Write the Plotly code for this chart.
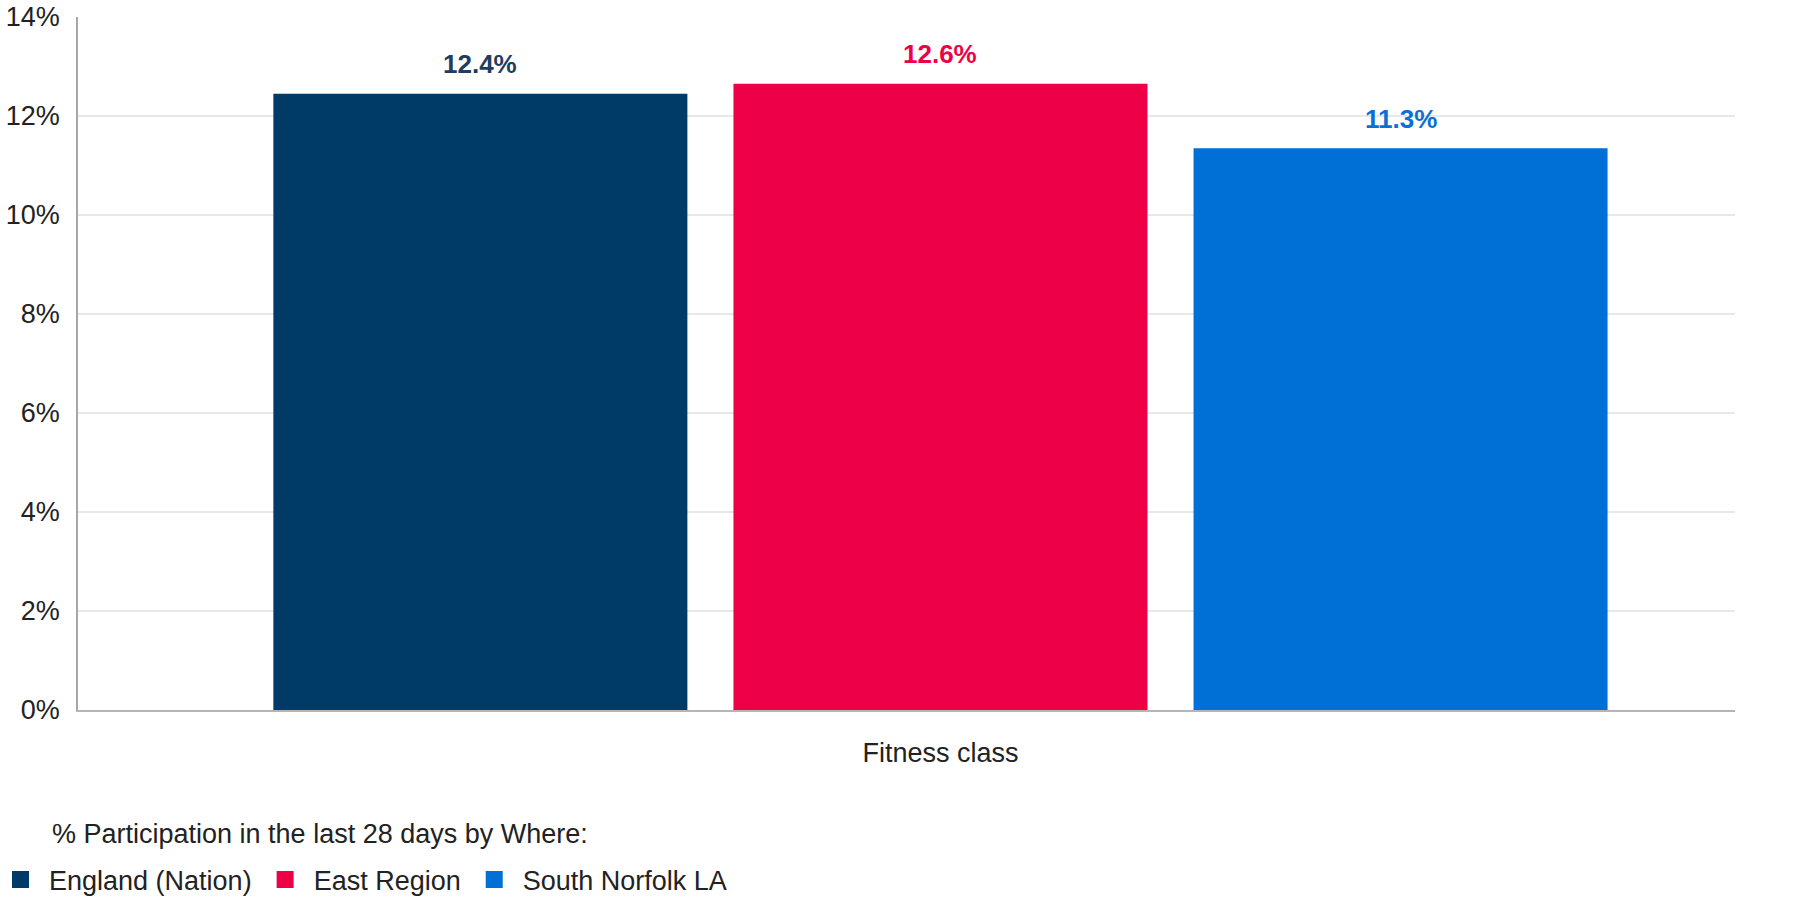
import plotly.graph_objects as go

categories = ["Fitness class"]
series_names = ["England (Nation)", "East Region", "South Norfolk LA"]
series_values = [[12.4], [12.6], [11.3]]
colors = ["#003B68", "#EE0047", "#006FD6"]
label_colors = ["#1F3D5E", "#EE0047", "#0A6FD6"]
y_ticks = [0, 2, 4, 6, 8, 10, 12, 14]
y_tick_labels = ["0%", "2%", "4%", "6%", "8%", "10%", "12%", "14%"]
legend_title = "% Participation in the last 28 days by Where:"

W, H = 1809, 898
ML, MR, MT, MB = 78, 74, 17, 188
plot_w = W - ML - MR
plot_h = H - MT - MB
BARGAP = 0.167
BARGROUPGAP = 0.111
BAR_LINE = 5
x_range = [-0.5205, 0.4795]
slot_px = plot_w * (1 - BARGAP) / len(series_names) / (x_range[1] - x_range[0])

FONT = "Liberation Sans, Arial, sans-serif"
TXT = "#222222"
FS = 27

fig = go.Figure()
for name, vals, c in zip(series_names, series_values, colors):
    fig.add_trace(go.Bar(x=categories, y=vals, name=name,
                         marker=dict(color=c, line=dict(width=BAR_LINE, color=c))))

for i, (vals, lc) in enumerate(zip(series_values, label_colors)):
    for cat, v in zip(categories, vals):
        fig.add_annotation(x=cat, y=v, xref="x", yref="y", text=f"<b>{v:.1f}%</b>",
                           showarrow=False, yanchor="middle", yshift=32,
                           xshift=(i - (len(series_names) - 1) / 2) * slot_px,
                           font=dict(family=FONT, size=26, color=lc))

# legend heading
fig.add_annotation(text=legend_title, xref="paper", yref="paper",
                   x=(50 - ML) / plot_w, y=(H - MB - 834) / plot_h,
                   xanchor="left", yanchor="middle", showarrow=False,
                   font=dict(family=FONT, size=FS, color=TXT))

fig.update_layout(
    width=W, height=H,
    margin=dict(l=ML, r=MR, t=MT, b=MB, pad=0, autoexpand=False),
    paper_bgcolor="white", plot_bgcolor="white",
    barmode="group", bargap=BARGAP, bargroupgap=BARGROUPGAP,
    font=dict(family=FONT, size=FS, color=TXT),
    showlegend=True,
    legend=dict(orientation="h", xref="paper", yref="paper",
                x=(-8 - ML) / plot_w, xanchor="left",
                y=(H - MB - 880) / plot_h, yanchor="middle",
                itemwidth=47,
                font=dict(size=FS, color=TXT), bgcolor="rgba(0,0,0,0)"),
    xaxis=dict(type="category", range=x_range, showgrid=False, showline=True,
               linecolor="#B5B5B5", linewidth=1.5, ticks="", ticklabelstandoff=18,
               automargin=False, tickfont=dict(size=FS, color=TXT)),
    yaxis=dict(range=[0, 14], tickmode="array", tickvals=y_ticks, ticktext=y_tick_labels,
               showgrid=True, gridcolor="#E8E8E8", gridwidth=1.5, zeroline=False, showline=True,
               linecolor="#A8A8A8", linewidth=1.5, ticks="", ticklabelstandoff=11,
               automargin=False, tickfont=dict(size=FS, color=TXT)),
)

fig.write_html("out.html")
